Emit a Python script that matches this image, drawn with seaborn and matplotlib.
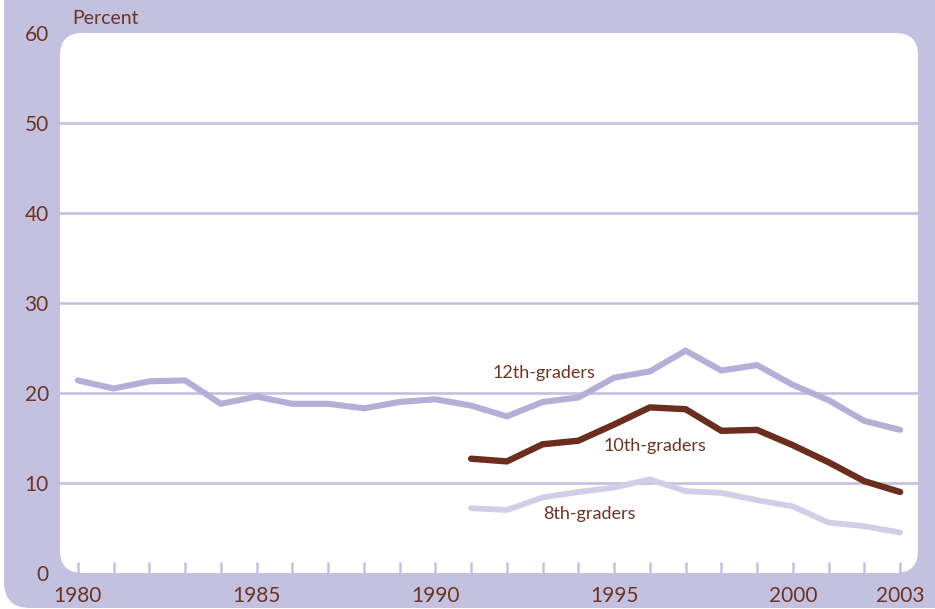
import pandas as pd
import seaborn as sns
import matplotlib.pyplot as plt
from matplotlib.patches import FancyBboxPatch

# ----------- Data -------------------------------------------

years_12 = list(range(1980, 2004))
grade12 = [21.4, 20.5, 21.3, 21.4, 18.8, 19.6, 18.8, 18.8, 18.3, 19.0, 19.3, 18.6,
           17.4, 19.0, 19.5, 21.7, 22.4, 24.7, 22.5, 23.1, 20.9, 19.2, 16.9, 15.9]

years_10_8 = list(range(1991, 2004))
grade10 = [12.7, 12.4, 14.3, 14.7, 16.5, 18.4, 18.2, 15.8, 15.9, 14.2, 12.3, 10.2, 9.0]
grade8 = [7.2, 7.0, 8.4, 9.0, 9.5, 10.4, 9.1, 8.9, 8.1, 7.4, 5.6, 5.2, 4.5]

series_names = ["12th-graders", "10th-graders", "8th-graders"]
major_ticks = [1980, 1985, 1990, 1995, 2000, 2003]
y_ticks = [0, 10, 20, 30, 40, 50, 60]

df = pd.concat([
    pd.DataFrame({"year": years_12, "pct": grade12, "grade": series_names[0]}),
    pd.DataFrame({"year": years_10_8, "pct": grade10, "grade": series_names[1]}),
    pd.DataFrame({"year": years_10_8, "pct": grade8, "grade": series_names[2]}),
])

# ----------- Styling ---------------------

frame_col = "#c4c0df"
text_col = "#6b3424"
pal = {"12th-graders": "#b5aed7", "10th-graders": "#6b2e1e", "8th-graders": "#d2cee8"}
widths = {"12th-graders": 4.4, "10th-graders": 4.6, "8th-graders": 4.2}

sns.set_theme(style="white")
plt.rcParams['font.family'] = ['Lato', 'DejaVu Sans']

W, H = 935, 609
fig = plt.figure(figsize=(W / 100, H / 100), dpi=100, facecolor="white")

# purple outer frame with rounded lower-left corner
outer = FancyBboxPatch((4 / W, 1 / H), 1.2, 1.2,
                       boxstyle="round,pad=0,rounding_size=0.028",
                       mutation_aspect=W / H, transform=fig.transFigure,
                       facecolor=frame_col, edgecolor="none", zorder=-3)
fig.patches.append(outer)

left, right, top, bottom = 60, 918, 33, 573
ax = fig.add_axes([left / W, (H - bottom) / H, (right - left) / W, (bottom - top) / H])
ax.patch.set_alpha(0)

inner = FancyBboxPatch((left / W, (H - bottom) / H), (right - left) / W, (bottom - top) / H,
                       boxstyle="round,pad=0,rounding_size=0.024",
                       mutation_aspect=W / H, transform=fig.transFigure,
                       facecolor="white", edgecolor="none", zorder=-2)
fig.patches.append(inner)

for y in y_ticks[1:-1]:
    ax.axhline(y, color=frame_col, lw=1.9, zorder=1)

for name in series_names:
    sns.lineplot(data=df[df["grade"] == name], x="year", y="pct", ax=ax,
                 color=pal[name], lw=widths[name], solid_capstyle="round",
                 solid_joinstyle="miter", zorder=3, legend=False)

ax.set_xlim(1979.5, 2003.5)
ax.set_ylim(0, 60)
for s in ax.spines.values():
    s.set_visible(False)

ax.set_xticks(major_ticks)
ax.set_xticks(years_12, minor=True)
ax.tick_params(axis="x", which="both", direction="in", length=8, width=1.8,
               color=frame_col, pad=9, labelsize=15, labelcolor=text_col, bottom=True)
ax.set_xticklabels([str(t) for t in major_ticks])
ax.set_yticks(y_ticks)
ax.tick_params(axis="y", length=0, pad=8, labelsize=15, labelcolor=text_col)
ax.set_xlabel("")
ax.set_ylabel("")

fig.text(72 / W, 1 - 18 / H, "Percent", ha="left", va="center",
         fontsize=14, color=text_col)

ax.text(1991.6, 22.2, "12th-graders", ha="left", va="center", fontsize=13, color=text_col)
ax.text(1994.7, 14.1, "10th-graders", ha="left", va="center", fontsize=13, color=text_col)
ax.text(1993.0, 6.6, "8th-graders", ha="left", va="center", fontsize=13, color=text_col)

fig.savefig("out.png", dpi=100)
